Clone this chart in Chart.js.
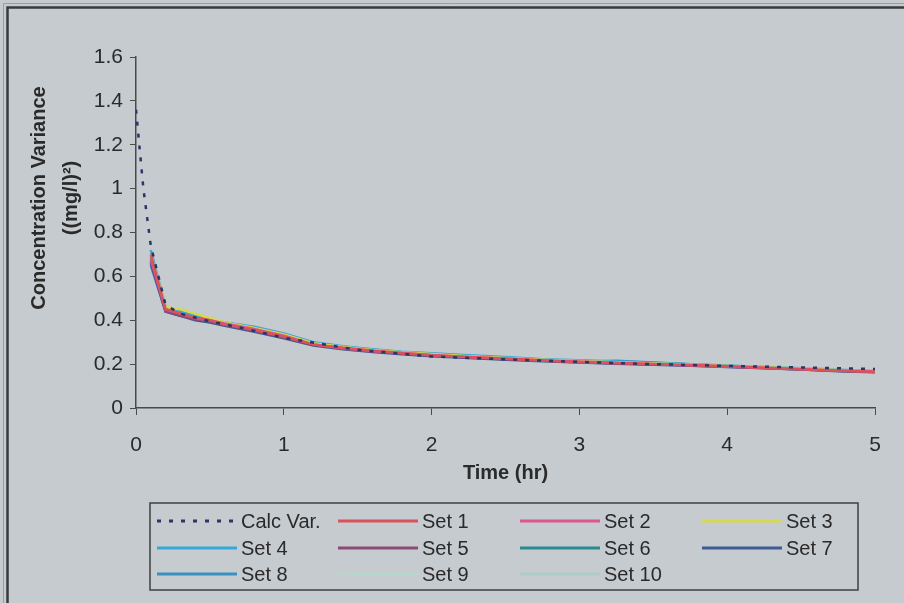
<!DOCTYPE html>
<html>
<head>
<meta charset="utf-8">
<script src="https://cdn.jsdelivr.net/npm/chart.js@4.4.0/dist/chart.umd.min.js"></script>
<style>
  html, body { margin: 0; padding: 0; background: #c6cbcf; }
  canvas { display: block; }
</style>
</head>
<body>
<canvas id="chart" width="904" height="603"></canvas>
<script>
// time axis (hr)
var calcTimes = [0, 0.05, 0.1, 0.2, 0.3, 0.5, 0.75, 1, 1.5, 2, 2.5, 3, 3.5, 4, 4.5, 5];
var calcVar   = [1.36, 1.0, 0.74, 0.47, 0.43, 0.395, 0.36, 0.32, 0.265, 0.235, 0.222, 0.21, 0.2, 0.192, 0.185, 0.178];

var setTimes = [0.1, 0.2, 0.3, 0.4, 0.5, 0.6, 0.8, 1.0, 1.2, 1.4, 1.6, 1.8, 2.0, 2.25, 2.5, 2.75, 3.0, 3.25, 3.5, 3.75, 4.0, 4.25, 4.5, 4.75, 5.0];

var set1  = [0.70, 0.45, 0.43, 0.41, 0.40, 0.38, 0.355, 0.325, 0.29, 0.275, 0.262, 0.250, 0.240, 0.232, 0.224, 0.216, 0.209, 0.205, 0.200, 0.196, 0.190, 0.183, 0.177, 0.170, 0.165];
var set2  = [0.68, 0.45, 0.43, 0.41, 0.40, 0.385, 0.36, 0.33, 0.29, 0.272, 0.260, 0.252, 0.242, 0.233, 0.226, 0.218, 0.212, 0.206, 0.201, 0.195, 0.189, 0.184, 0.178, 0.171, 0.166];
var set3  = [0.70, 0.46, 0.45, 0.43, 0.41, 0.39, 0.365, 0.335, 0.295, 0.278, 0.264, 0.254, 0.246, 0.236, 0.228, 0.220, 0.214, 0.208, 0.203, 0.198, 0.192, 0.186, 0.180, 0.173, 0.168];
var set4  = [0.72, 0.46, 0.44, 0.42, 0.405, 0.39, 0.37, 0.34, 0.30, 0.282, 0.268, 0.256, 0.250, 0.240, 0.232, 0.222, 0.218, 0.212, 0.206, 0.200, 0.194, 0.187, 0.181, 0.174, 0.169];
var set5  = [0.67, 0.44, 0.42, 0.405, 0.395, 0.38, 0.352, 0.322, 0.288, 0.270, 0.258, 0.248, 0.238, 0.230, 0.222, 0.215, 0.208, 0.203, 0.199, 0.194, 0.188, 0.182, 0.176, 0.170, 0.164];
var set6  = [0.69, 0.45, 0.43, 0.415, 0.40, 0.385, 0.36, 0.33, 0.292, 0.276, 0.262, 0.252, 0.244, 0.236, 0.228, 0.220, 0.213, 0.210, 0.205, 0.198, 0.191, 0.184, 0.178, 0.171, 0.166];
var set7  = [0.66, 0.44, 0.42, 0.40, 0.39, 0.375, 0.348, 0.318, 0.285, 0.268, 0.255, 0.245, 0.236, 0.228, 0.220, 0.213, 0.207, 0.202, 0.197, 0.193, 0.187, 0.181, 0.175, 0.168, 0.163];
var set8  = [0.65, 0.44, 0.42, 0.41, 0.40, 0.382, 0.358, 0.328, 0.29, 0.274, 0.260, 0.250, 0.241, 0.233, 0.225, 0.218, 0.211, 0.215, 0.207, 0.199, 0.190, 0.183, 0.177, 0.170, 0.165];
var set9  = [0.70, 0.46, 0.44, 0.42, 0.41, 0.39, 0.362, 0.332, 0.294, 0.278, 0.266, 0.255, 0.246, 0.238, 0.230, 0.224, 0.215, 0.209, 0.204, 0.198, 0.193, 0.186, 0.180, 0.173, 0.168];
var set10 = [0.69, 0.45, 0.44, 0.42, 0.405, 0.388, 0.362, 0.334, 0.296, 0.280, 0.265, 0.254, 0.245, 0.237, 0.229, 0.221, 0.214, 0.208, 0.204, 0.199, 0.193, 0.187, 0.181, 0.174, 0.169];

var setNames  = ['Set 1', 'Set 2', 'Set 3', 'Set 4', 'Set 5', 'Set 6', 'Set 7', 'Set 8', 'Set 9', 'Set 10'];
var setValues = [set1, set2, set3, set4, set5, set6, set7, set8, set9, set10];
var setColors = ['#d9545a', '#d9568e', '#d8d84a', '#38a8d8', '#8c4a78', '#2a8a8e', '#3e5c96', '#3a90c0', '#b8d6cc', '#aecdc6'];

var yTickLabels = ['0', '0.2', '0.4', '0.6', '0.8', '1', '1.2', '1.4', '1.6'];
var xTickLabels = ['0', '1', '2', '3', '4', '5'];
var yTitle = ['Concentration Variance', '((mg/l)\u00b2)'];
var xTitle = 'Time (hr)';

function points(xs, ys) {
    return xs.map(function (x, i) { return { x: x, y: ys[i] }; });
}

var datasets = [{
    label: 'Calc Var.',
    data: points(calcTimes, calcVar),
    borderColor: '#2b3566',
    borderWidth: 2.5,
    borderDash: [4, 8],
    pointRadius: 0,
    tension: 0
}];
setNames.forEach(function (name, i) {
    datasets.push({
        label: name,
        data: points(setTimes, setValues[i]),
        borderColor: setColors[i],
        borderWidth: 2.5,
        pointRadius: 0,
        tension: 0
    });
});

var textColor = '#2a2a2a';
var axisColor = '#4a4a4a';
var family = '"Liberation Sans", Arial, sans-serif';

// background + outer frame
var frame = {
    id: 'frame',
    beforeDraw: function (chart) {
        var ctx = chart.ctx;
        ctx.save();
        ctx.fillStyle = '#c6cbcf';
        ctx.fillRect(0, 0, chart.width, chart.height);
        ctx.strokeStyle = '#9a9ea2';
        ctx.lineWidth = 1;
        ctx.beginPath();
        ctx.moveTo(3.5, chart.height);
        ctx.lineTo(3.5, 3.5);
        ctx.lineTo(chart.width, 3.5);
        ctx.stroke();
        ctx.strokeStyle = '#3a3a3a';
        ctx.lineWidth = 2.5;
        ctx.beginPath();
        ctx.moveTo(7.5, chart.height);
        ctx.lineTo(7.5, 7.5);
        ctx.lineTo(chart.width, 7.5);
        ctx.stroke();
        ctx.restore();
    }
};

// y axis title, two rotated lines
var yTitlePlugin = {
    id: 'yTitle',
    afterDraw: function (chart) {
        var ctx = chart.ctx;
        ctx.save();
        ctx.fillStyle = textColor;
        ctx.font = 'bold 20px ' + family;
        ctx.textAlign = 'center';
        ctx.textBaseline = 'middle';
        ctx.translate(0, 198);
        ctx.rotate(-Math.PI / 2);
        ctx.fillText(yTitle[0], 0, 39);
        ctx.fillText(yTitle[1], 0, 71);
        ctx.restore();
    }
};

// legend in a 4-column grid with a border
var gridLegend = {
    id: 'gridLegend',
    afterDraw: function (chart) {
        var ctx = chart.ctx;
        var box = { x: 150, y: 503, w: 708, h: 87 };
        var cols = [157, 338, 520, 702];
        var rows = [521, 548, 574];
        ctx.save();
        ctx.strokeStyle = '#404040';
        ctx.lineWidth = 1.5;
        ctx.strokeRect(box.x, box.y, box.w, box.h);
        ctx.font = '20px ' + family;
        ctx.textBaseline = 'middle';
        chart.data.datasets.forEach(function (ds, i) {
            var x = cols[i % 4], y = rows[Math.floor(i / 4)];
            ctx.beginPath();
            ctx.strokeStyle = ds.borderColor;
            ctx.lineWidth = 3;
            ctx.setLineDash(ds.borderDash || []);
            ctx.moveTo(x, y);
            ctx.lineTo(x + 80, y);
            ctx.stroke();
            ctx.setLineDash([]);
            ctx.fillStyle = textColor;
            ctx.fillText(ds.label, x + 84, y + 1);
        });
        ctx.restore();
    }
};

new Chart(document.getElementById('chart'), {
    type: 'line',
    data: { datasets: datasets },
    options: {
        responsive: false,
        animation: false,
        layout: { padding: { left: 20, top: 57, right: 29, bottom: 118 } },
        plugins: {
            legend: { display: false },
            tooltip: { enabled: false }
        },
        scales: {
            x: {
                type: 'linear',
                min: 0,
                max: 5,
                ticks: {
                    stepSize: 1,
                    padding: 18,
                    color: textColor,
                    font: { family: family, size: 21 },
                    callback: function (v, i) { return xTickLabels[i]; }
                },
                grid: { drawOnChartArea: false, tickLength: 7, color: axisColor },
                border: { color: axisColor, width: 1.5 },
                title: {
                    display: true,
                    text: xTitle,
                    color: textColor,
                    padding: 0,
                    font: { family: family, size: 20, weight: 'bold' }
                },
                afterFit: function (scale) { scale.height = 77; }
            },
            y: {
                min: 0,
                max: 1.6,
                ticks: {
                    stepSize: 0.2,
                    padding: 7,
                    color: textColor,
                    font: { family: family, size: 21 },
                    callback: function (v, i) { return yTickLabels[i]; }
                },
                grid: { drawOnChartArea: false, tickLength: 6, color: axisColor },
                border: { color: axisColor, width: 1.5 },
                afterFit: function (scale) { scale.width = 116; }
            }
        }
    },
    plugins: [frame, yTitlePlugin, gridLegend]
});
</script>
</body>
</html>
